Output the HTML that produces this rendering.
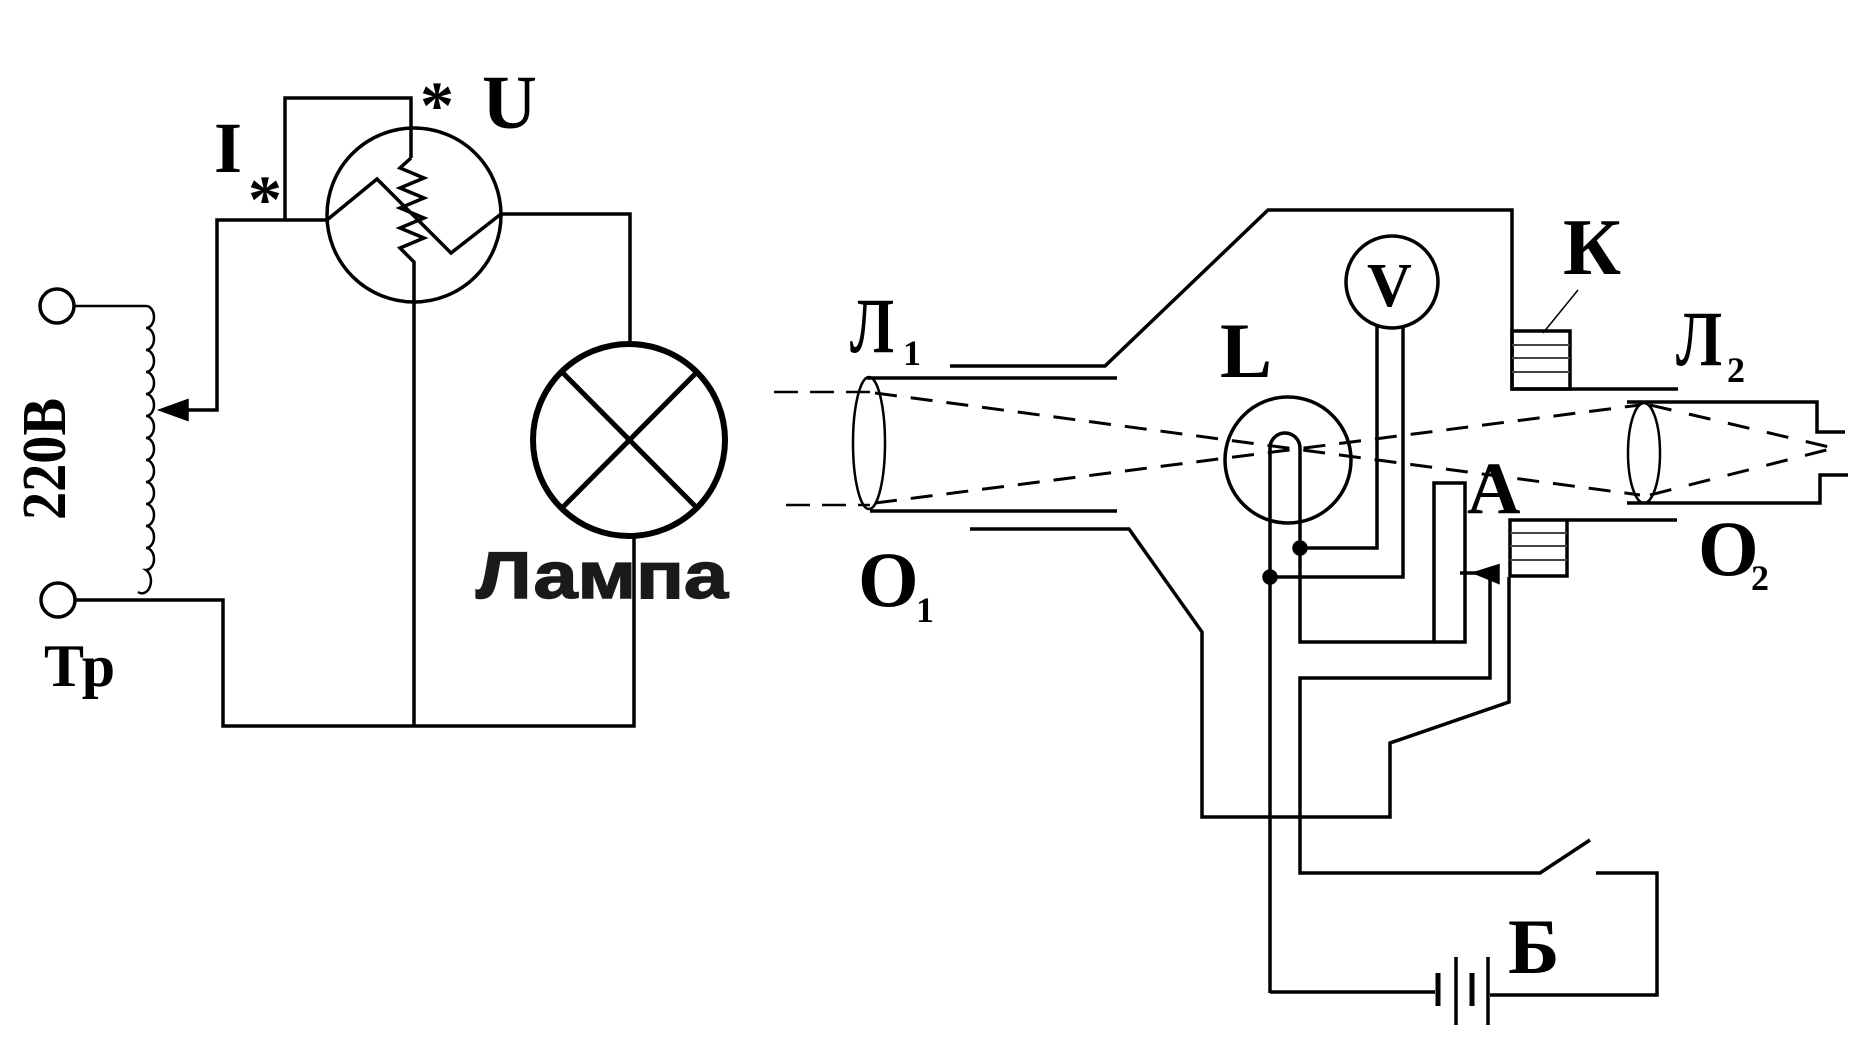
<!DOCTYPE html>
<html><head><meta charset="utf-8"><style>
html,body{margin:0;padding:0;background:#fff;}
svg{display:block;}
.t{font-family:"Liberation Serif",serif;font-weight:bold;fill:#000;}
.s{font-family:"Liberation Sans",sans-serif;font-weight:bold;fill:#1a1a1a;stroke:#1a1a1a;stroke-width:1.5;}
</style></head><body>
<svg width="1868" height="1059" viewBox="0 0 1868 1059" xmlns="http://www.w3.org/2000/svg">
<g fill="none" stroke="#000" stroke-width="3.5">
<!-- LEFT CIRCUIT -->
<circle cx="57" cy="306" r="17"/>
<circle cx="58" cy="600" r="17"/>
<path d="M74,306 H146" stroke-width="2.5"/>
<path d="M74,600 H223 V726 H634 V537"/>
<path d="M146,306 a8,11 0 0 1 0,22 a8,11 0 0 1 0,22 a8,11 0 0 1 0,22 a8,11 0 0 1 0,22 a8,11 0 0 1 0,22 a8,11 0 0 1 0,22 a8,11 0 0 1 0,22 a8,11 0 0 1 0,22 a8,11 0 0 1 0,22 a8,11 0 0 1 0,22 a8,11 0 0 1 0,22 a8,11 0 0 1 0,22 a8,11 0 0 1 -8,22" stroke-width="2.5"/>
<path d="M327,220 H217 V410 H180"/>
<polygon points="162,410 187,401 187,419" fill="#000"/>
<path d="M285,220 V98 H411 V158"/>
<circle cx="414" cy="215" r="87"/>
<path d="M411,158 L400,168 L424,178 L400,188 L424,198 L400,208 L424,218 L400,228 L424,238 L400,248 L414,262 V726"/>
<path d="M327,220 L377,179 L451,253 L501,214"/>
<path d="M501,214 H630 V344"/>
<circle cx="629" cy="440" r="96" stroke-width="6"/>
<path d="M562,372 L697,508 M697,372 L562,508" stroke-width="5"/>
<!-- OPTICS LEFT -->
<path d="M774,392 H870 M786,505 H870" stroke-dasharray="24,12" stroke-width="2.5"/>
<ellipse cx="869" cy="443" rx="16" ry="66" stroke-width="2.5"/>
<path d="M867,378 H1117 M870,511 H1117"/>
<path d="M950,366 H1105 L1268,210 H1512 V389 H1678"/>
<path d="M970,529 H1129 L1202,632 V817 H1390 V743 L1509,702 V577"/>
<path d="M875,393 L1640,495 M875,503 L1640,405" stroke-dasharray="22,14" stroke-width="3"/>
<path d="M1650,405 L1842,450 M1650,495 L1842,446" stroke-dasharray="22,18" stroke-width="3"/>
<path d="M1627,402 H1817 V432 H1845 M1627,503 H1820 V475 H1848"/>
<ellipse cx="1644" cy="453" rx="16" ry="50" stroke-width="2.5"/>
<path d="M1567,520 H1677"/>
<!-- K boxes -->
<rect x="1512" y="331" width="58" height="58"/>
<path d="M1512,345 H1570 M1512,358 H1570 M1512,372 H1570" stroke-width="2" stroke="#444"/>
<rect x="1510" y="520" width="57" height="56"/>
<path d="M1510,533 H1567 M1510,546 H1567 M1510,560 H1567" stroke-width="2" stroke="#444"/>
<path d="M1578,290 L1543,333" stroke-width="1.5"/>
<!-- L circle -->
<circle cx="1288" cy="460" r="63"/>
<path d="M1270,993 V448 A15,15 0 0 1 1300,448 V642 H1465 V483 H1434 V642"/>
<path d="M1300,548 H1377 V326 M1270,577 H1403 V326"/>
<circle cx="1300" cy="548" r="6" fill="#000"/>
<circle cx="1270" cy="577" r="6" fill="#000"/>
<circle cx="1392" cy="282" r="46"/>
<path d="M1460,573 H1480"/>
<polygon points="1498,566 1476,573 1498,582" fill="#000"/>
<path d="M1490,573 V678 H1300 V873 H1540 L1590,840 M1596,873 H1657 V995 H1490"/>
<path d="M1270,992 H1435"/>
<path d="M1438,973 V1006 M1472,973 V1006" stroke-width="5"/>
<path d="M1456,957 V1025 M1488,957 V1025"/>
</g>
<!-- labels -->
<text class="t" x="214" y="172" font-size="72">I</text>
<text class="t" x="248" y="222" font-size="68">*</text>
<text class="t" x="420" y="128" font-size="68">*</text>
<text class="t" x="482" y="128" font-size="76">U</text>
<text class="t" font-size="62" transform="translate(65,520) rotate(-90)" textLength="122" lengthAdjust="spacingAndGlyphs">220В</text>
<text class="t" x="44" y="686" font-size="60">Тр</text>
<text class="s" x="476" y="598" font-size="66" textLength="252" lengthAdjust="spacingAndGlyphs">Лампа</text>
<text class="t" x="850" y="352" font-size="78" textLength="44" lengthAdjust="spacingAndGlyphs">Л</text><text class="t" x="903" y="365" font-size="36">1</text>
<text class="t" x="858" y="606" font-size="78">О</text><text class="t" x="916" y="622" font-size="36">1</text>
<text class="t" x="1220" y="377" font-size="78">L</text>
<text class="t" x="1367" y="306" font-size="62">V</text>
<text class="t" x="1563" y="274" font-size="80">К</text>
<text class="t" x="1676" y="365" font-size="78" textLength="46" lengthAdjust="spacingAndGlyphs">Л</text><text class="t" x="1727" y="382" font-size="36">2</text>
<text class="t" x="1467" y="513" font-size="74">А</text>
<text class="t" x="1698" y="575" font-size="78">О</text><text class="t" x="1751" y="590" font-size="36">2</text>
<text class="t" x="1508" y="973" font-size="78">Б</text>
</svg>
</body></html>
